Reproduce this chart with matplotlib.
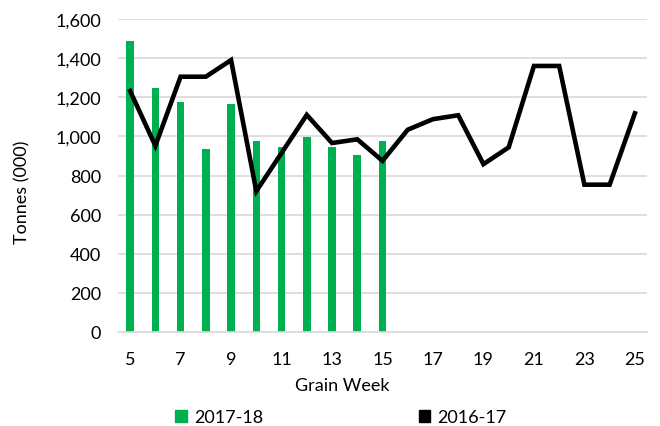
"""
Weekly grain tonnes: 2017-18 (bars) vs 2016-17 (line)
"""

import matplotlib
matplotlib.use("Agg")
import matplotlib.pyplot as plt
from matplotlib.patches import Patch
from matplotlib.ticker import FuncFormatter

# ── data ────────────────────────────────────────────────────────────────
weeks_cur = [5, 6, 7, 8, 9, 10, 11, 12, 13, 14, 15]
tonnes_cur = [1490, 1245, 1175, 935, 1165, 975, 945, 998, 945, 905, 975]

weeks_prev = list(range(5, 26))
tonnes_prev = [1232, 952, 1305, 1305, 1390, 720, 915, 1110, 966, 985, 875,
               1034, 1088, 1108, 858, 944, 1360, 1360, 753, 753, 1118]

x_ticks = list(range(5, 26, 2))
y_ticks = list(range(0, 1601, 200))

GREEN = "#00b050"
GRID = "#d9d9d9"
FS = 13

# ── style ───────────────────────────────────────────────────────────────
plt.rcParams.update({
    "font.family": ["Lato", "DejaVu Sans"],
    "font.size": FS,
    "text.color": "#000000",
})

W, H = 660, 427
fig = plt.figure(figsize=(W / 100, H / 100), dpi=100)
ax = fig.add_axes([117.5 / W, 1 - 333 / H, 530 / W, 313 / H])

ax.bar(weeks_cur, tonnes_cur, width=0.3, color=GREEN, zorder=2)
ax.plot(weeks_prev, tonnes_prev, color="black", lw=3.3, zorder=3,
        solid_joinstyle="miter")

ax.set_xlim(4.5, 25.5)
ax.set_ylim(0, 1600)
ax.set_xticks(x_ticks)
ax.set_yticks(y_ticks)
ax.yaxis.set_major_formatter(FuncFormatter(lambda v, _: f"{int(v):,}"))
ax.tick_params(length=0, labelsize=FS, colors="#000000")
ax.tick_params(axis="y", pad=12)
ax.tick_params(axis="x", pad=14)

ax.grid(axis="y", color=GRID, lw=1.2, zorder=0)
for sp in ("top", "right", "left"):
    ax.spines[sp].set_visible(False)
ax.spines["bottom"].set_color(GRID)
ax.spines["bottom"].set_linewidth(1.2)

# axis titles placed like the Excel original
fig.text(342 / W, 1 - 386 / H, "Grain Week", ha="center", va="center",
         fontsize=FS)
fig.text(22 / W, 1 - 192 / H, "Tonnes (000)", ha="center", va="center",
         rotation=90, fontsize=FS)

handles = [Patch(color=GREEN, label="2017-18"),
           Patch(color="black", label="2016-17")]
fig.legend(handles=handles, loc="center", bbox_to_anchor=(341 / W, 1 - 418 / H),
           ncol=2, frameon=False, fontsize=FS, handlelength=0.65,
           handleheight=0.65, handletextpad=0.4, columnspacing=8.6,
           borderpad=0, borderaxespad=0)

fig.savefig("out.png", dpi=100)
